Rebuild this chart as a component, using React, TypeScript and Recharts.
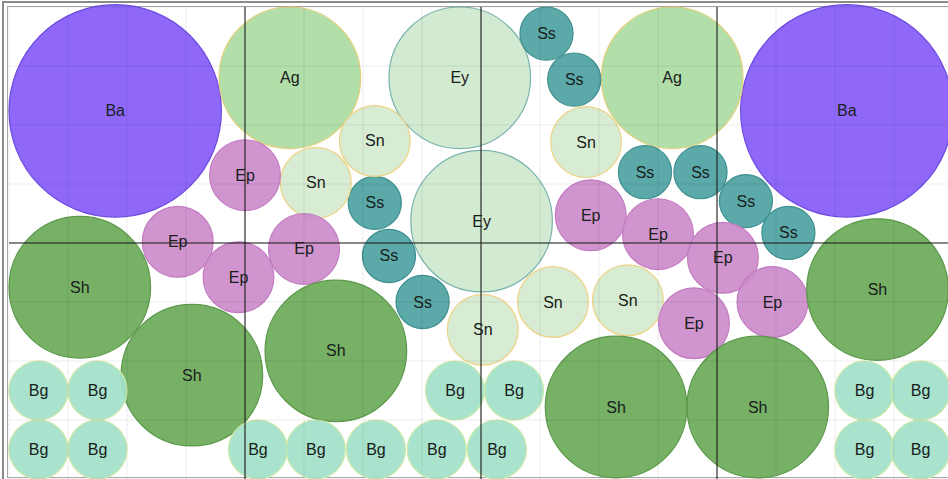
import { ScatterChart, Scatter, XAxis, YAxis, ZAxis, ReferenceLine } from 'recharts';

// bubble centres in grid units (x: 0..16 left to right, y: 0..8 bottom to top), r = radius in grid units
const baBubbles = [
  { x: 1.8, y: 6.24, r: 1.8 },
  { x: 14.2, y: 6.24, r: 1.8 },
];
const agBubbles = [
  { x: 4.76, y: 6.8, r: 1.2 },
  { x: 11.24, y: 6.8, r: 1.2 },
];
const eyBubbles = [
  { x: 7.64, y: 6.8, r: 1.2 },
  { x: 8.01, y: 4.37, r: 1.2 },
];
const ssBubbles = [
  { x: 9.11, y: 7.55, r: 0.45 },
  { x: 9.58, y: 6.77, r: 0.45 },
  { x: 6.2, y: 4.68, r: 0.45 },
  { x: 6.44, y: 3.78, r: 0.45 },
  { x: 7.01, y: 3.0, r: 0.45 },
  { x: 10.78, y: 5.2, r: 0.45 },
  { x: 11.72, y: 5.2, r: 0.45 },
  { x: 12.49, y: 4.71, r: 0.45 },
  { x: 13.21, y: 4.17, r: 0.45 },
];
const snBubbles = [
  { x: 6.2, y: 5.73, r: 0.6 },
  { x: 5.2, y: 5.02, r: 0.6 },
  { x: 9.78, y: 5.71, r: 0.6 },
  { x: 9.22, y: 3.0, r: 0.6 },
  { x: 10.49, y: 3.03, r: 0.6 },
  { x: 8.03, y: 2.53, r: 0.6 },
];
const epBubbles = [
  { x: 4.0, y: 5.15, r: 0.6 },
  { x: 2.86, y: 4.02, r: 0.6 },
  { x: 3.89, y: 3.42, r: 0.6 },
  { x: 5.0, y: 3.9, r: 0.6 },
  { x: 9.86, y: 4.47, r: 0.6 },
  { x: 11.0, y: 4.15, r: 0.6 },
  { x: 12.1, y: 3.75, r: 0.6 },
  { x: 11.61, y: 2.64, r: 0.6 },
  { x: 12.94, y: 3.0, r: 0.6 },
];
const shBubbles = [
  { x: 1.2, y: 3.25, r: 1.2 },
  { x: 3.1, y: 1.76, r: 1.2 },
  { x: 5.54, y: 2.17, r: 1.2 },
  { x: 10.29, y: 1.22, r: 1.2 },
  { x: 12.69, y: 1.22, r: 1.2 },
  { x: 14.72, y: 3.21, r: 1.2 },
];
const bgBubbles = [
  { x: 0.5, y: 1.5, r: 0.5 },
  { x: 1.5, y: 1.5, r: 0.5 },
  { x: 0.5, y: 0.5, r: 0.5 },
  { x: 1.5, y: 0.5, r: 0.5 },
  { x: 4.22, y: 0.5, r: 0.5 },
  { x: 5.2, y: 0.5, r: 0.5 },
  { x: 6.22, y: 0.5, r: 0.5 },
  { x: 7.25, y: 0.5, r: 0.5 },
  { x: 8.27, y: 0.5, r: 0.5 },
  { x: 7.56, y: 1.5, r: 0.5 },
  { x: 8.56, y: 1.5, r: 0.5 },
  { x: 14.5, y: 1.5, r: 0.5 },
  { x: 15.45, y: 1.5, r: 0.5 },
  { x: 14.5, y: 0.5, r: 0.5 },
  { x: 15.45, y: 0.5, r: 0.5 },
];

const xTicks = [0, 1, 2, 3, 4, 5, 6, 7, 8, 9, 10, 11, 12, 13, 14, 15, 16];
const yTicks = [0, 1, 2, 3, 4, 5, 6, 7, 8];
const xMajor = [4, 8, 12];
const yMajor = [4];

const series = [
  { name: 'Ba', data: baBubbles, fill: '#875df9', stroke: '#6d4ae0' },
  { name: 'Ag', data: agBubbles, fill: '#acdba4', stroke: '#e2cf7c' },
  { name: 'Ey', data: eyBubbles, fill: '#cfe8cd', stroke: '#79b3ad' },
  { name: 'Ss', data: ssBubbles, fill: '#4fa3a3', stroke: '#3f9090' },
  { name: 'Sn', data: snBubbles, fill: '#d4ebcf', stroke: '#efd386' },
  { name: 'Ep', data: epBubbles, fill: '#cc8ccb', stroke: '#c37cc2' },
  { name: 'Sh', data: shBubbles, fill: '#6cab5a', stroke: '#5a9849' },
  { name: 'Bg', data: bgBubbles, fill: '#a3e1c9', stroke: '#cdeaa8' },
];

const UNIT = 59;

function Bubble(props: any) {
  const { cx, cy, size, fill, stroke, label } = props;
  return (
    <g>
      <circle cx={cx} cy={cy} r={size} fill={fill} fillOpacity={0.93} stroke={stroke} strokeWidth={1.2} />
      <text
        x={cx}
        y={cy}
        textAnchor="middle"
        dominantBaseline="central"
        fontFamily="'Liberation Sans', Arial, sans-serif"
        fontSize={16}
        fill="#18201a"
      >
        {label}
      </text>
    </g>
  );
}

export default function App() {
  return (
    <div style={{ position: 'fixed', left: 0, top: 0, width: 948, height: 479, overflow: 'hidden', background: '#fff' }}>
      <div style={{ position: 'absolute', left: 2, top: 1, width: 960, height: 500, border: '2px solid #8a8a8a' }} />
      <div style={{ position: 'absolute', left: 7, top: 6, width: 960, height: 470, border: '1px solid #a8a8a8' }} />
      <div style={{ position: 'absolute', left: 0, top: 0 }}>
        <ScatterChart width={953} height={479} margin={{ top: 7, left: 9, right: 0, bottom: 0 }}>
          <XAxis type="number" dataKey="x" domain={[0, 16]} ticks={xTicks} hide />
          <YAxis type="number" dataKey="y" domain={[0, 8]} ticks={yTicks} hide />
          <ZAxis type="number" dataKey="r" domain={[0, 2]} range={[0, 2 * UNIT]} />
          {series.map((s) => (
            <Scatter
              key={s.name}
              name={s.name}
              data={s.data}
              fill={s.fill}
              stroke={s.stroke}
              isAnimationActive={false}
              shape={(p: any) => <Bubble {...p} fill={s.fill} stroke={s.stroke} label={s.name} />}
            />
          ))}
          {xTicks.map((t) => (
            <ReferenceLine key={'gx' + t} x={t} stroke="#000" strokeOpacity={0.07} strokeWidth={1} zIndex={1000} />
          ))}
          {yTicks.map((t) => (
            <ReferenceLine key={'gy' + t} y={t} stroke="#000" strokeOpacity={0.07} strokeWidth={1} zIndex={1000} />
          ))}
          {xMajor.map((t) => (
            <ReferenceLine key={'mx' + t} x={t} stroke="#222" strokeOpacity={0.7} strokeWidth={1.6} zIndex={1000} />
          ))}
          {yMajor.map((t) => (
            <ReferenceLine key={'my' + t} y={t} stroke="#222" strokeOpacity={0.7} strokeWidth={1.6} zIndex={1000} />
          ))}
        </ScatterChart>
      </div>
    </div>
  );
}
